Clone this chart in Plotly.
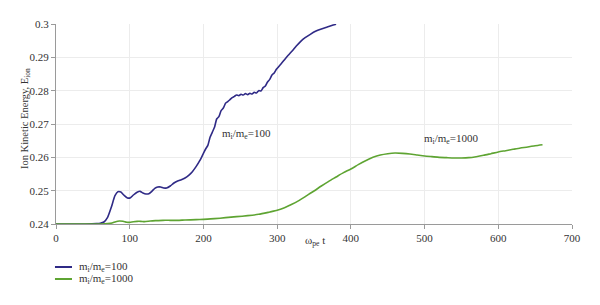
import plotly.graph_objects as go

t_100 = [0, 40, 55, 60, 65, 70, 75, 80, 84, 88, 92, 97, 101, 105, 110, 114, 118, 122, 126, 130,
         134, 138, 142, 146, 150, 155, 160, 165, 170, 175, 180, 185, 190, 195, 200, 203, 206, 209,
         212, 215, 218, 221, 224, 227, 230, 233, 236, 239, 242, 245, 248, 251, 254, 257, 260, 263,
         266, 269, 272, 275, 278, 281, 284, 287, 290, 293, 296, 299, 302, 306, 310, 315, 320, 326,
         332, 338, 345, 352, 360, 368, 376, 380]
e_100 = [0.2400, 0.2400, 0.2401, 0.2402, 0.2406, 0.2420, 0.2450, 0.2485, 0.2497, 0.2496, 0.2487,
         0.2478, 0.2479, 0.2487, 0.2495, 0.2498, 0.2493, 0.2490, 0.2491, 0.2498, 0.2507, 0.2511,
         0.2511, 0.2508, 0.2508, 0.2514, 0.2523, 0.2529, 0.2533, 0.2538, 0.2546, 0.2557, 0.2572,
         0.2590, 0.2612, 0.2625, 0.2636, 0.2660, 0.2675, 0.2690, 0.2715, 0.2722, 0.2740, 0.2748,
         0.2762, 0.2767, 0.2773, 0.2779, 0.2783, 0.2787, 0.2785, 0.2789, 0.2787, 0.2791, 0.2788,
         0.2792, 0.2790, 0.2795, 0.2793, 0.2800, 0.2799, 0.2809, 0.2814, 0.2826, 0.2834, 0.2847,
         0.2853, 0.2864, 0.2872, 0.2882, 0.2893, 0.2906, 0.2918, 0.2934, 0.2948, 0.2959, 0.2969,
         0.2978, 0.2985, 0.2991, 0.2997, 0.2999]

t_1000 = [0, 60, 70, 76, 81, 86, 91, 96, 100, 105, 110, 115, 120, 128, 135, 145, 155, 165, 175,
          190, 200, 215, 230, 245, 260, 275, 290, 300, 310, 320, 330, 340, 350, 360, 370, 380, 390,
          400, 410, 420, 430, 440, 450, 460, 470, 480, 490, 500, 510, 520, 530, 540, 550, 560, 570,
          580, 590, 600, 610, 620, 630, 640, 650, 660]
e_1000 = [0.2400, 0.2400, 0.2401, 0.2403, 0.2407, 0.2409, 0.2408, 0.2405, 0.2405, 0.2407, 0.2408,
          0.2408, 0.2407, 0.2409, 0.2410, 0.2411, 0.2411, 0.2411, 0.2412, 0.2413, 0.2414, 0.2416,
          0.2419, 0.2422, 0.2425, 0.2429, 0.2436, 0.2441, 0.2449, 0.2459, 0.2471, 0.2485, 0.2499,
          0.2514, 0.2528, 0.2541, 0.2554, 0.2565, 0.2578, 0.2590, 0.2600, 0.2607, 0.2611, 0.2613,
          0.2612, 0.2610, 0.2607, 0.2604, 0.2602, 0.2600, 0.2599, 0.2598, 0.2598, 0.2599, 0.2602,
          0.2606, 0.2611, 0.2616, 0.2620, 0.2624, 0.2628, 0.2631, 0.2635, 0.2638]

x_ticks = [0, 100, 200, 300, 400, 500, 600, 700]
y_ticks = [0.24, 0.25, 0.26, 0.27, 0.28, 0.29, 0.3]
y_tick_labels = ["0.24", "0.25", "0.26", "0.27", "0.28", "0.29", "0.3"]

names = ["m<sub>i</sub>/m<sub>e</sub>=100", "m<sub>i</sub>/m<sub>e</sub>=1000"]
colors = ["#2f2a86", "#5ea432"]

FONT = "Liberation Serif, DejaVu Serif, serif"
TXT = "#333333"

fig = go.Figure()
fig.add_trace(go.Scatter(x=t_100, y=e_100, mode="lines", name=names[0], showlegend=False,
                         line=dict(color=colors[0], width=1.6, shape="spline", smoothing=0.6)))
fig.add_trace(go.Scatter(x=t_1000, y=e_1000, mode="lines", name=names[1], showlegend=False,
                         line=dict(color=colors[1], width=1.6, shape="spline", smoothing=0.6)))

# in-plot labels
fig.add_annotation(x=258, y=0.2670, text=names[0], showarrow=False,
                   font=dict(family=FONT, size=11, color=TXT))
fig.add_annotation(x=536, y=0.2654, text=names[1], showarrow=False,
                   font=dict(family=FONT, size=11, color=TXT))
# x-axis title
fig.add_annotation(x=0.502, y=-0.085, xref="paper", yref="paper", text="ω<sub>pe</sub> t",
                   showarrow=False, xanchor="center", yanchor="middle",
                   font=dict(family=FONT, size=11, color=TXT))
# y-axis title
fig.add_annotation(x=-0.060, y=0.525, xref="paper", yref="paper",
                   text="Ion Kinetic Energy, E<sub>ion</sub>", textangle=-90,
                   showarrow=False, xanchor="center", yanchor="middle",
                   font=dict(family=FONT, size=10.5, color=TXT))

# legend below the plot
leg_y = [-0.215, -0.275]
for name, col, ly in zip(names, colors, leg_y):
    fig.add_shape(type="line", xref="paper", yref="paper", x0=-0.002, x1=0.031, y0=ly, y1=ly,
                  line=dict(color=col, width=2))
    fig.add_annotation(x=0.041, y=ly, xref="paper", yref="paper", text=name, showarrow=False,
                       xanchor="left", yanchor="middle",
                       font=dict(family=FONT, size=11, color=TXT))

axis_common = dict(showline=True, linecolor="#9a9a9a", linewidth=1, ticks="outside",
                   tickcolor="#9a9a9a", ticklen=4, showgrid=True, gridcolor="#ececec",
                   gridwidth=1, zeroline=False, automargin=False,
                   tickfont=dict(family=FONT, size=11, color=TXT))

fig.update_layout(
    width=600, height=305,
    margin=dict(l=48, r=36, t=16, b=89, autoexpand=False),
    paper_bgcolor="white", plot_bgcolor="white",
    font=dict(family=FONT, size=11, color=TXT),
    showlegend=False,
    xaxis=dict(range=[0, 700], tickvals=x_ticks, **axis_common),
    yaxis=dict(range=[0.24, 0.3], tickvals=y_ticks, ticktext=y_tick_labels, **axis_common),
)

fig.write_html("out.html")
